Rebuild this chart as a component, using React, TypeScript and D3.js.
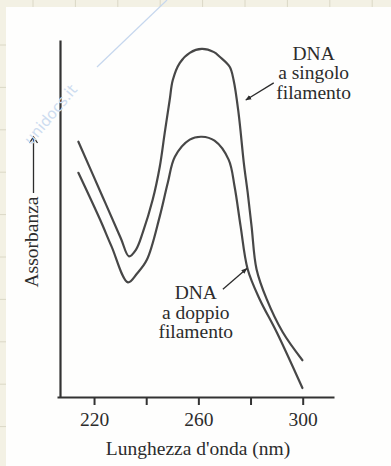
import { useEffect, useRef } from 'react';
import * as d3 from 'd3';

// DNA a singolo filamento (single strand)
const wavelengthSingle = [214, 223.4, 230.3, 233.4, 236.1, 238.7, 242.5, 245.2, 247.1, 249.0, 250.2, 252.9, 256.7, 261.3, 266.0, 268.2, 272.0, 273.5, 275.4, 277.5, 278.9, 280.4, 282.3, 286.2, 292.3, 299.9];
const absorbanceSingle = [0.715, 0.559, 0.444, 0.394, 0.413, 0.461, 0.553, 0.645, 0.740, 0.832, 0.888, 0.936, 0.964, 0.975, 0.966, 0.953, 0.925, 0.888, 0.796, 0.651, 0.573, 0.478, 0.358, 0.274, 0.182, 0.103];

// DNA a doppio filamento (double strand)
const wavelengthDouble = [214, 222.3, 226.7, 233.0, 236.5, 240.3, 245.2, 248.3, 251.0, 256.7, 261.3, 266.2, 271.6, 273.9, 276.2, 278.9, 283.5, 290.0, 299.9];
const absorbanceDouble = [0.628, 0.497, 0.422, 0.321, 0.346, 0.385, 0.506, 0.601, 0.673, 0.721, 0.729, 0.718, 0.665, 0.589, 0.478, 0.358, 0.274, 0.182, 0.025];

const tickValues = [220, 240, 260, 280, 300];
const tickLabels = ['220', '', '260', '', '300'];
const labelSingle = ['DNA', 'a singolo', 'filamento'];
const labelDouble = ['DNA', 'a doppio', 'filamento'];
const xTitle = "Lunghezza d'onda (nm)";
const yTitle = 'Assorbanza';

const W = 391;
const H = 466;
const FONT = '"Liberation Serif", "Times New Roman", serif';
const INK = '#2c2c2c';

const App = () => {
  const svgRef = useRef<SVGSVGElement>(null);

  useEffect(() => {
    const svg = d3.select(svgRef.current);
    svg.selectAll('*').remove();

    // scanned page background with faint grid
    svg.append('rect').attr('width', W).attr('height', H).attr('fill', '#f3f1e4');
    const grid = svg.append('g').attr('stroke', '#dbd8c6').attr('stroke-width', 1);
    d3.range(33, W, 42.4).forEach(gx =>
      grid.append('line').attr('x1', gx).attr('x2', gx).attr('y1', 0).attr('y2', H));
    d3.range(45, H, 42.4).forEach(gy =>
      grid.append('line').attr('x1', 0).attr('x2', W).attr('y1', gy).attr('y2', gy));
    svg.append('rect')
      .attr('x', 6).attr('y', 7)
      .attr('width', W - 6).attr('height', H - 7)
      .attr('fill', '#fefefd');

    // Scales
    const x = d3.scaleLinear().domain([205.8, 312]).range([57, 334]);
    const y = d3.scaleLinear().domain([0, 1]).range([397, 40]);

    // X axis
    const xAxis = svg.append('g')
      .attr('transform', `translate(0,${y(0)})`)
      .call(d3.axisBottom(x)
        .tickValues(tickValues)
        .tickFormat((d, i) => tickLabels[i])
        .tickSize(8)
        .tickSizeOuter(0)
        .tickPadding(7));
    xAxis.select('.domain').attr('stroke', '#333').attr('stroke-width', 2.2);
    xAxis.selectAll('.tick line').attr('stroke', '#333').attr('stroke-width', 2);
    xAxis.selectAll('.tick text')
      .attr('fill', INK)
      .style('font-family', FONT)
      .style('font-size', '19.5px');

    // Y axis (no ticks)
    const yAxis = svg.append('g')
      .attr('transform', `translate(${x.range()[0] + 3},0)`)
      .call(d3.axisLeft(y).tickValues([]).tickSizeOuter(0));
    yAxis.select('.domain').attr('stroke', '#333').attr('stroke-width', 2.2);

    // Curves
    const line = d3.line<[number, number]>()
      .x(d => x(d[0]))
      .y(d => y(d[1]))
      .curve(d3.curveCatmullRom.alpha(0.5));

    const single = wavelengthSingle.map((w, i) => [w, absorbanceSingle[i]] as [number, number]);
    const double = wavelengthDouble.map((w, i) => [w, absorbanceDouble[i]] as [number, number]);

    [single, double].forEach(series => {
      svg.append('path')
        .datum(series)
        .attr('fill', 'none')
        .attr('stroke', '#474747')
        .attr('stroke-width', 2.2)
        .attr('stroke-linecap', 'round')
        .attr('d', line);
    });

    // Arrow marker
    svg.append('defs').append('marker')
      .attr('id', 'head')
      .attr('viewBox', '0 0 10 10')
      .attr('refX', 9).attr('refY', 5)
      .attr('markerWidth', 6).attr('markerHeight', 6)
      .attr('markerUnits', 'userSpaceOnUse')
      .attr('orient', 'auto')
      .append('path')
      .attr('d', 'M0,1 L10,5 L0,9 Z')
      .attr('fill', '#2c2c2c');

    // Annotations
    const annotate = (lines: string[], cx: number, cy: number) => {
      const t = svg.append('text')
        .attr('text-anchor', 'middle')
        .attr('fill', INK)
        .style('font-family', FONT)
        .style('font-size', '19.5px');
      lines.forEach((s, i) => {
        t.append('tspan').attr('x', x(cx)).attr('y', y(cy) + i * 19.5).text(s);
      });
    };
    annotate(labelSingle, 304.2, 0.944);
    annotate(labelDouble, 259.0, 0.274);

    const pointer = (from: [number, number], to: [number, number]) => {
      svg.append('line')
        .attr('x1', x(from[0])).attr('y1', y(from[1]))
        .attr('x2', x(to[0])).attr('y2', y(to[1]))
        .attr('stroke', '#2c2c2c')
        .attr('stroke-width', 1.3)
        .attr('marker-end', 'url(#head)');
    };
    pointer([288.9, 0.880], [278.2, 0.832]);
    pointer([269.4, 0.302], [278.6, 0.360]);

    // Axis titles
    svg.append('text')
      .attr('x', 198).attr('y', 455)
      .attr('text-anchor', 'middle')
      .attr('fill', INK)
      .style('font-family', FONT)
      .style('font-size', '19.5px')
      .text(xTitle);

    svg.append('text')
      .attr('transform', 'translate(38,242) rotate(-90)')
      .attr('text-anchor', 'middle')
      .attr('fill', INK)
      .style('font-family', FONT)
      .style('font-size', '19.5px')
      .text(yTitle);

    // arrow next to "Assorbanza"
    svg.append('line')
      .attr('x1', 33.5).attr('x2', 33.5)
      .attr('y1', 193).attr('y2', 137)
      .attr('stroke', '#2c2c2c').attr('stroke-width', 1.3);
    svg.append('path')
      .attr('d', 'M29.5,143 L33.5,137 L37.5,143')
      .attr('fill', 'none')
      .attr('stroke', '#2c2c2c').attr('stroke-width', 1.3);

    // faint watermark
    svg.append('line')
      .attr('x1', 97).attr('y1', 67).attr('x2', 167).attr('y2', 0)
      .attr('stroke', '#c6d7ee').attr('stroke-width', 1.2);
    svg.append('text')
      .attr('transform', 'translate(78,90) rotate(-50)')
      .attr('text-anchor', 'end')
      .attr('fill', '#cddcf0')
      .style('font-family', '"DejaVu Sans", sans-serif')
      .style('font-size', '15px')
      .text('unidocs.it');
  }, []);

  return (
    <svg
      ref={svgRef}
      width={W}
      height={H}
      style={{ position: 'absolute', left: 0, top: 0, display: 'block' }}
    />
  );
};

export default App;
